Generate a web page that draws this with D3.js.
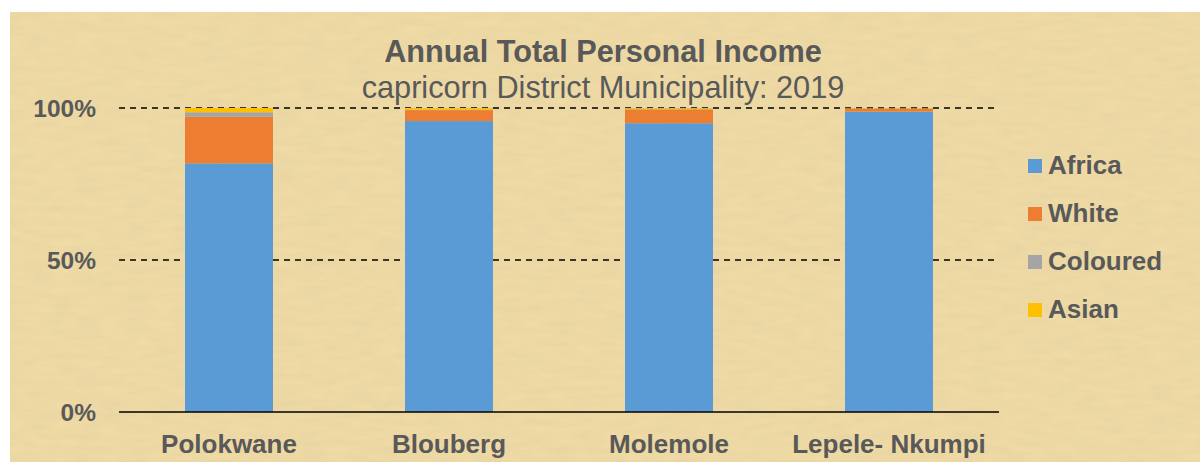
<!DOCTYPE html>
<html>
<head>
<meta charset="utf-8">
<script src="https://cdn.jsdelivr.net/npm/d3@7"></script>
<style>
  html, body { margin: 0; padding: 0; background: #ffffff; }
  svg { display: block; }
  text { font-family: "Liberation Sans", Arial, sans-serif; fill: #595959; }
</style>
</head>
<body>
<svg id="chart" width="1200" height="462"></svg>
<script>
// ---- data ----
const categories = ["Polokwane", "Blouberg", "Molemole", "Lepele- Nkumpi"];
const seriesNames = ["Africa", "White", "Coloured", "Asian"];
const africa   = [81.8, 95.7, 95.0, 98.8];
const white    = [15.3, 3.6, 4.5, 1.0];
const coloured = [1.5, 0.2, 0.2, 0.1];
const asian    = [1.4, 0.5, 0.3, 0.1];
const yTickValues = [0, 50, 100];
const yTickLabels = ["0%", "50%", "100%"];
const colors = ["#5B9BD5", "#ED7D31", "#A5A5A5", "#FFC000"];
const titleText = "Annual Total Personal Income";
const subtitleText = "capricorn District Municipality: 2019";

const rows = categories.map((c, i) => ({
  cat: c, Africa: africa[i], White: white[i], Coloured: coloured[i], Asian: asian[i]
}));

const svg = d3.select("#chart");
const defs = svg.append("defs");

// parchment-like background texture
const f = defs.append("filter").attr("id", "paper").attr("x", 0).attr("y", 0).attr("width", "100%").attr("height", "100%");
f.append("feTurbulence").attr("type", "fractalNoise").attr("baseFrequency", "0.04 0.15").attr("numOctaves", 2).attr("seed", 3).attr("result", "n");
f.append("feColorMatrix").attr("in", "n").attr("type", "matrix")
  .attr("values", "0 0 0 0 0.60  0 0 0 0 0.50  0 0 0 0 0.28  0 0 0 0.45 -0.08")
  .attr("result", "c");
f.append("feComposite").attr("in", "c").attr("in2", "SourceGraphic").attr("operator", "in");

svg.append("rect").attr("x", 10).attr("y", 12).attr("width", 1190).attr("height", 450).attr("fill", "#f0dba6");
svg.append("rect").attr("x", 10).attr("y", 12).attr("width", 1190).attr("height", 450).attr("fill", "#f0dba6").attr("filter", "url(#paper)").attr("opacity", 0.6);

// ---- scales ----
const x = d3.scaleBand().domain(categories).range([119, 999]).paddingInner(0.6).paddingOuter(0.3);
const y = d3.scaleLinear().domain([0, 100]).range([412, 108]);

// gridlines
svg.append("g").selectAll("line").data(yTickValues.filter(v => v > 0)).join("line")
  .attr("x1", 119).attr("x2", 999)
  .attr("y1", d => y(d)).attr("y2", d => y(d))
  .attr("stroke", "#000").attr("stroke-width", 1.5).attr("stroke-dasharray", "6,5");

// stacked bars
const stack = d3.stack().keys(seriesNames);
const stacked = stack(rows);
svg.append("g").selectAll("g").data(stacked).join("g")
  .attr("fill", (d, i) => colors[i])
  .selectAll("rect").data(d => d).join("rect")
  .attr("x", d => x(d.data.cat))
  .attr("width", x.bandwidth())
  .attr("y", d => y(d[1]))
  .attr("height", d => y(d[0]) - y(d[1]));

// baseline
svg.append("line").attr("x1", 119).attr("x2", 999).attr("y1", y(0)).attr("y2", y(0))
  .attr("stroke", "#000").attr("stroke-width", 1.5);

// y tick labels
const yAxis = d3.axisLeft(y).tickValues(yTickValues).tickFormat((d, i) => yTickLabels[i]).tickSize(0).tickPadding(0);
const ya = svg.append("g").attr("transform", "translate(96,0)").call(yAxis);
ya.select(".domain").remove();
ya.selectAll("text").attr("font-size", 24.5).attr("font-weight", "bold").attr("fill", "#595959")
  .style("font-family", "'Liberation Sans', Arial, sans-serif").attr("dy", "0.35em").attr("x", 0);

// x labels
const xAxis = d3.axisBottom(x).tickSize(0).tickPadding(0);
const xa = svg.append("g").attr("transform", "translate(0,453)").call(xAxis);
xa.select(".domain").remove();
xa.selectAll("text").attr("font-size", 26).attr("font-weight", "bold").attr("fill", "#595959")
  .style("font-family", "'Liberation Sans', Arial, sans-serif").attr("dy", 0).attr("y", 0);

// title
svg.append("text").attr("x", 603).attr("y", 62).attr("text-anchor", "middle")
  .attr("font-size", 30.7).attr("font-weight", "bold").text(titleText);
svg.append("text").attr("x", 603).attr("y", 98).attr("text-anchor", "middle")
  .attr("font-size", 30.7).text(subtitleText);

// legend
const lg = svg.append("g").selectAll("g").data(seriesNames).join("g")
  .attr("transform", (d, i) => `translate(1028,${159 + i * 48})`);
lg.append("rect").attr("width", 14).attr("height", 14).attr("fill", (d, i) => colors[i]);
lg.append("text").attr("x", 20).attr("y", 14.5).attr("font-size", 26).attr("font-weight", "bold").text(d => d);
</script>
</body>
</html>
